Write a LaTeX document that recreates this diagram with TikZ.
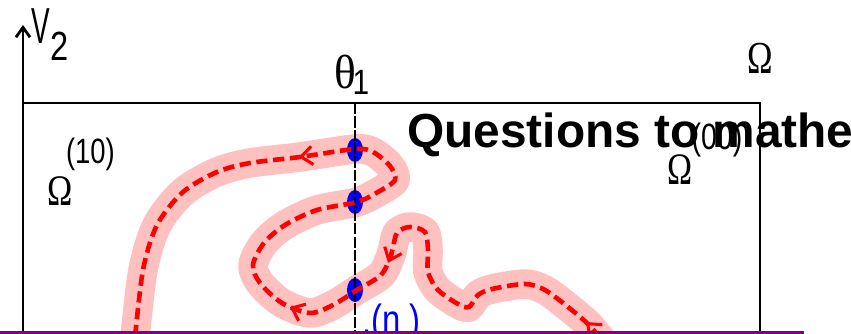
\documentclass[tikz,border=0pt]{standalone}
\usepackage{fontspec}
\usepackage{graphicx}
\setmainfont{Liberation Sans}
\newfontfamily\grk{Liberation Serif}
\usetikzlibrary{arrows.meta,decorations.markings}

\definecolor{halo}{RGB}{255,192,192}
\definecolor{slidepurple}{RGB}{128,0,128}
% condensed text: size, horizontal scale, text
\newcommand{\nar}[3]{\scalebox{#2}[1]{\fontsize{#1}{#1}\selectfont #3}}
% the trajectory, drawn with the given style
\newcommand{\orbitplot}[1]{\path[#1] plot[smooth,tension=0.5] coordinates {
        (600,338) (588,324) (568,307) (545,290) (525,284) (492,289)
        (478,295) (469,307) (458,304) (438,290) (428,272) (428,250)
        (425,232) (410,227) (397,233) (391,255) (381,275) (357,290)
        (333,305) (310,313) (282,303) (260,283) (253,265) (264,243)
        (285,225) (317,210) (357,202) (378,192) (395,180) (390,166)
        (373,152) (355,149) (300,157) (250,163) (217,172) (183,192)
        (157,225) (143,270) (135,338)};}

\begin{document}
\begin{tikzpicture}[x=0.025cm,y=-0.025cm,
        lbl/.style={inner sep=0pt},
        trail/.style={draw=halo,line width=21pt,line cap=round,line join=round},
        orbit/.style={draw=red,line width=3.3pt,dash pattern=on 8pt off 4pt},
        barb/.style={red,line width=2.2pt},
        flow/.style={postaction={decorate},decoration={markings,
            mark=at position 0.02 with {\arrow[barb]{Straight Barb[length=8pt,width=13pt]}},
            mark=at position 0.30 with {\arrow[barb]{Straight Barb[length=8pt,width=13pt]}},
            mark=at position 0.41 with {\arrow[barb]{Straight Barb[length=8pt,width=13pt]}},
            mark=at position 0.735 with {\arrow[barb]{Straight Barb[length=8pt,width=13pt]}}}},
        hit/.style={fill=blue,draw=none}]
        \useasboundingbox (0,0) rectangle (851,334);

        % axis and domain box
        \draw[line width=2pt,-{Straight Barb[length=7pt,width=10pt,line width=2pt]}] (23,334) -- (23,25);
        \draw[line width=2pt] (23,103) -- (760,103) -- (760,334);

        % labels
        \node[lbl] (vtxt) at (41,26) {\nar{36}{0.55}{V}};
        \node[lbl] (vsub) at (59.5,46) {\nar{29}{0.8}{2}};
        \node[lbl] (theta) at (345,72) {\nar{34}{0.95}{\grk θ}};
        \node[lbl] (tsub) at (361,82) {\nar{25}{0.85}{1}};
        \node[lbl] (omega) at (760,58) {\nar{32.6}{0.75}{\grk Ω}};
        \node[lbl] (om10) at (60.5,191) {\nar{31}{0.78}{\grk Ω}};
        \node[lbl] (sup10) at (90.5,154) {\nar{25}{0.78}{(10)}};
        \node[lbl,anchor=base west] (title) at (407,148)
                {\fontsize{34}{40}\selectfont\bfseries Questions to mathe};
        \node[lbl] (om00) at (680,170) {\nar{32}{0.75}{\grk Ω}};
        \node[lbl] (sup00) at (717,140) {\nar{26}{0.78}{(00)}};

        % trajectory
        \orbitplot{trail}

        % crossings with theta_1
        \foreach \y in {150,202,290}
                \fill[hit] (355,\y) ellipse [x radius=8,y radius=12];
        \draw[line width=1.8pt,dash pattern=on 8pt off 1.5pt] (355,103) -- (355,334);

        \orbitplot{orbit,flow}
        \node[lbl,blue,anchor=west] (nlab) at (362,324) {\nar{30}{0.78}{.(n )}};

        \draw[slidepurple,line width=2.4pt] (0,332.5) -- (804,332.5);
\end{tikzpicture}
\end{document}
